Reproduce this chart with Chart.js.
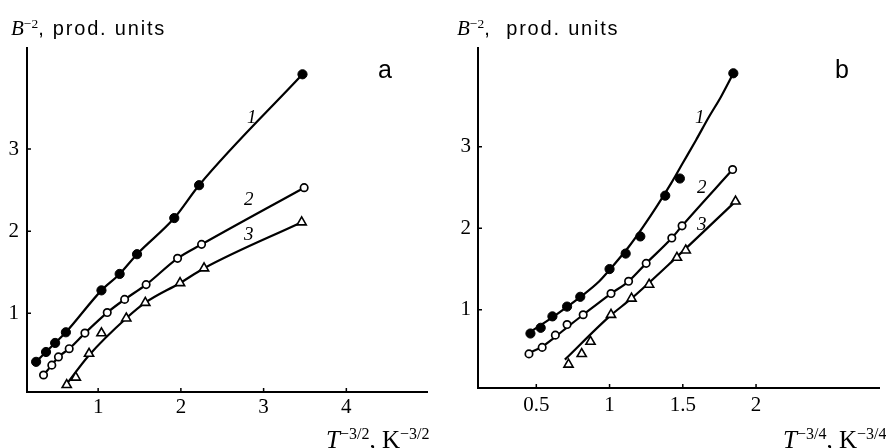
<!DOCTYPE html>
<html><head><meta charset="utf-8">
<script src="https://cdn.jsdelivr.net/npm/chart.js@4.4.1/dist/chart.umd.min.js"></script>
<style>
html,body{margin:0;padding:0;background:#fff;width:886px;height:448px;overflow:hidden;position:relative;}
.panel{position:absolute;top:0;width:443px;height:448px;}
.txt{position:absolute;white-space:nowrap;color:#000;line-height:1;}
.serif{font-family:"Liberation Serif","DejaVu Serif",serif;}
.sans{font-family:"Liberation Sans",Arial,sans-serif;}
.sup{position:relative;top:-0.55em;font-size:0.64em;}
.bl{display:inline-block;width:0;height:0;vertical-align:baseline;}
</style></head><body>
<div class="panel" style="left:0"><canvas id="ca" width="443" height="448"></canvas></div>
<div class="panel" style="left:443px"><canvas id="cb" width="443" height="448"></canvas></div>

<div class="txt" id="ta_y" style="font-size:21px"><i class="serif">B</i><span class="serif sup">−2</span><span class="sans" style="font-size:20px;letter-spacing:1.8px">, prod. units</span><span class="bl"></span></div>
<div class="txt" id="tb_y" style="font-size:21px"><i class="serif">B</i><span class="serif sup">−2</span><span class="sans" style="font-size:20px;letter-spacing:1.8px">,&nbsp; prod. units</span><span class="bl"></span></div>
<div class="txt serif" id="ta_x" style="font-size:25px"><i>T</i><span class="sup">−3/2</span>, K<span class="sup">−3/2</span><span class="bl"></span></div>
<div class="txt serif" id="tb_x" style="font-size:25px"><i>T</i><span class="sup">−3/4</span>, K<span class="sup">−3/4</span><span class="bl"></span></div>
<div class="txt sans" id="ta_p" style="font-size:25px">a<span class="bl"></span></div>
<div class="txt sans" id="tb_p" style="font-size:25px">b<span class="bl"></span></div>
<div class="txt serif" id="ta_1" style="font-size:19px"><i>1</i><span class="bl"></span></div>
<div class="txt serif" id="ta_2" style="font-size:19px"><i>2</i><span class="bl"></span></div>
<div class="txt serif" id="ta_3" style="font-size:19px"><i>3</i><span class="bl"></span></div>
<div class="txt serif" id="tb_1" style="font-size:19px"><i>1</i><span class="bl"></span></div>
<div class="txt serif" id="tb_2" style="font-size:19px"><i>2</i><span class="bl"></span></div>
<div class="txt serif" id="tb_3" style="font-size:19px"><i>3</i><span class="bl"></span></div>

<script>
// ---------- Panel a data: B^-2 vs T^-3/2 ----------
const aX1 = [0.25, 0.37, 0.48, 0.61, 1.04, 1.26, 1.47, 1.92, 2.22, 3.47];
const aY1 = [0.41, 0.53, 0.64, 0.77, 1.28, 1.48, 1.72, 2.16, 2.56, 3.91];
const aX2 = [0.34, 0.44, 0.52, 0.65, 0.84, 1.11, 1.32, 1.58, 1.96, 2.25, 3.49];
const aY2 = [0.25, 0.37, 0.47, 0.57, 0.76, 1.01, 1.17, 1.35, 1.67, 1.84, 2.53];
const aX3 = [0.62, 0.73, 0.89, 1.04, 1.34, 1.57, 1.99, 2.28, 3.46];
const aY3 = [0.13, 0.22, 0.51, 0.76, 0.94, 1.13, 1.37, 1.55, 2.11];
// fitted curve 3
const aCX3 = [0.62, 0.89, 1.34, 1.57, 1.99, 2.28, 3.46];
const aCY3 = [0.14, 0.49, 0.94, 1.13, 1.37, 1.55, 2.11];
const aTicksX = [1, 2, 3, 4];
const aTicksY = [1, 2, 3];
const aLabelsX = ['1', '2', '3', '4'];
const aLabelsY = ['1', '2', '3'];

// ---------- Panel b data: B^-2 vs T^-3/4 ----------
const bX1 = [0.46, 0.53, 0.61, 0.71, 0.80, 1.00, 1.11, 1.21, 1.38, 1.48, 1.845];
const bY1 = [0.71, 0.78, 0.92, 1.04, 1.16, 1.50, 1.69, 1.90, 2.40, 2.61, 3.90];
const bX2 = [0.45, 0.54, 0.63, 0.71, 0.82, 1.01, 1.13, 1.25, 1.425, 1.495, 1.84];
const bY2 = [0.46, 0.54, 0.69, 0.82, 0.94, 1.20, 1.35, 1.57, 1.88, 2.03, 2.72];
const bX3 = [0.72, 0.81, 0.87, 1.01, 1.15, 1.27, 1.46, 1.52, 1.86];
const bY3 = [0.33, 0.46, 0.61, 0.94, 1.14, 1.31, 1.64, 1.73, 2.33];
// fitted curves
const bCX1 = [0.45, 0.62, 0.81, 0.93, 1.0, 1.13, 1.23, 1.33, 1.42, 1.50, 1.59, 1.68, 1.76, 1.845];
const bCY1 = [0.72, 0.92, 1.17, 1.35, 1.49, 1.77, 2.02, 2.29, 2.55, 2.80, 3.08, 3.37, 3.61, 3.90];
const bCX2 = [0.45, 0.54, 0.63, 0.72, 0.82, 1.01, 1.13, 1.25, 1.425, 1.495, 1.84];
const bCY2 = [0.47, 0.55, 0.67, 0.80, 0.94, 1.20, 1.35, 1.57, 1.88, 2.03, 2.72];
const bCX3 = [0.695, 1.0, 1.15, 1.46, 1.86];
const bCY3 = [0.39, 0.92, 1.14, 1.65, 2.33];
const bTicksX = [0.5, 1, 1.5, 2];
const bTicksY = [1, 2, 3];
const bLabelsX = ['0.5', '1', '1.5', '2'];
const bLabelsY = ['1', '2', '3'];

function pts(xs, ys) { return xs.map((x, i) => ({ x: x, y: ys[i] })); }
function curve(xs, ys) {
  return { data: pts(xs, ys), showLine: true, borderColor: '#000', borderWidth: 2.2,
    pointRadius: 0, pointHoverRadius: 0, cubicInterpolationMode: 'monotone', fill: false, order: 2 };
}
function marks(xs, ys, kind) {
  const base = { data: pts(xs, ys), showLine: false, borderColor: '#000', order: 1 };
  if (kind === 'filled') return Object.assign(base, { pointStyle: 'circle', pointRadius: 4.6, pointBackgroundColor: '#000', pointBorderWidth: 1 });
  if (kind === 'open') return Object.assign(base, { pointStyle: 'circle', pointRadius: 3.7, pointBackgroundColor: '#fff', pointBorderWidth: 1.7 });
  return Object.assign(base, { pointStyle: 'triangle', pointRadius: 5.3, pointBackgroundColor: '#fff', pointBorderWidth: 1.6 });
}

const inTicks = {
  id: 'inTicks',
  afterDraw(c) {
    const ctx = c.ctx, a = c.chartArea, x = c.scales.x, y = c.scales.y;
    ctx.save(); ctx.strokeStyle = '#000'; ctx.lineWidth = 1.5; ctx.beginPath();
    x.ticks.forEach(t => { const p = x.getPixelForValue(t.value); ctx.moveTo(p, a.bottom); ctx.lineTo(p, a.bottom - 4); });
    y.ticks.forEach(t => { const p = y.getPixelForValue(t.value); ctx.moveTo(a.left, p); ctx.lineTo(a.left + 4, p); });
    ctx.stroke(); ctx.restore();
  }
};

function makeChart(id, datasets, cfg) {
  const font = { family: '"Liberation Serif", "DejaVu Serif", serif', size: 21 };
  return new Chart(document.getElementById(id), {
    type: 'scatter',
    data: { datasets: datasets },
    options: {
      responsive: false, animation: false, events: [],
      layout: { padding: { left: 0, top: cfg.top, right: cfg.right, bottom: 0 } },
      plugins: { legend: { display: false }, tooltip: { enabled: false } },
      scales: {
        x: { type: 'linear', min: cfg.xmin, max: cfg.xmax,
          afterBuildTicks: s => { s.ticks = cfg.xt.map(v => ({ value: v })); },
          afterFit: s => { s.height = cfg.xh; },
          grid: { display: false, drawTicks: false }, border: { display: true, color: '#000', width: 2 },
          ticks: { color: '#000', font: font, padding: cfg.xpad, maxRotation: 0, autoSkip: false,
            callback: (v, i) => cfg.xl[i] } },
        y: { type: 'linear', min: cfg.ymin, max: cfg.ymax,
          afterBuildTicks: s => { s.ticks = cfg.yt.map(v => ({ value: v })); },
          afterFit: s => { s.width = cfg.yw; },
          grid: { display: false, drawTicks: false }, border: { display: true, color: '#000', width: 2 },
          ticks: { color: '#000', font: font, padding: cfg.ypad, autoSkip: false,
            callback: (v, i) => cfg.yl[i] } }
      }
    },
    plugins: [inTicks]
  });
}

makeChart('ca', [
  curve(aX1, aY1), curve(aX2, aY2), curve(aCX3, aCY3),
  marks(aX1, aY1, 'filled'), marks(aX2, aY2, 'open'), marks(aX3, aY3, 'tri')
], { xmin: 0.14, xmax: 4.975, ymin: 0.043, ymax: 4.23, xt: aTicksX, yt: aTicksY, xl: aLabelsX, yl: aLabelsY,
     top: 48, right: 16, xh: 56, yw: 27, xpad: 3, ypad: 8 });

makeChart('cb', [
  curve(bCX1, bCY1), curve(bCX2, bCY2), curve(bCX3, bCY3),
  marks(bX1, bY1, 'filled'), marks(bX2, bY2, 'open'), marks(bX3, bY3, 'tri')
], { xmin: 0.102, xmax: 2.84, ymin: 0.042, ymax: 4.21, xt: bTicksX, yt: bTicksY, xl: bLabelsX, yl: bLabelsY,
     top: 48, right: 6, xh: 60, yw: 35, xpad: 5, ypad: 7 });

function place(id, x, baseline) {
  const el = document.getElementById(id);
  el.style.left = x + 'px'; el.style.top = '0px';
  const m = el.querySelector('.bl');
  const off = m.getBoundingClientRect().top - el.getBoundingClientRect().top;
  el.style.top = (baseline - off) + 'px';
}
place('ta_y', 11, 35); place('tb_y', 457, 35);
place('ta_x', 326, 448); place('tb_x', 783, 448);
place('ta_p', 378, 78); place('tb_p', 835, 78);
place('ta_1', 247, 123); place('ta_2', 244, 205); place('ta_3', 244, 240);
place('tb_1', 695, 123); place('tb_2', 697, 193); place('tb_3', 697, 230);
</script>
</body></html>
